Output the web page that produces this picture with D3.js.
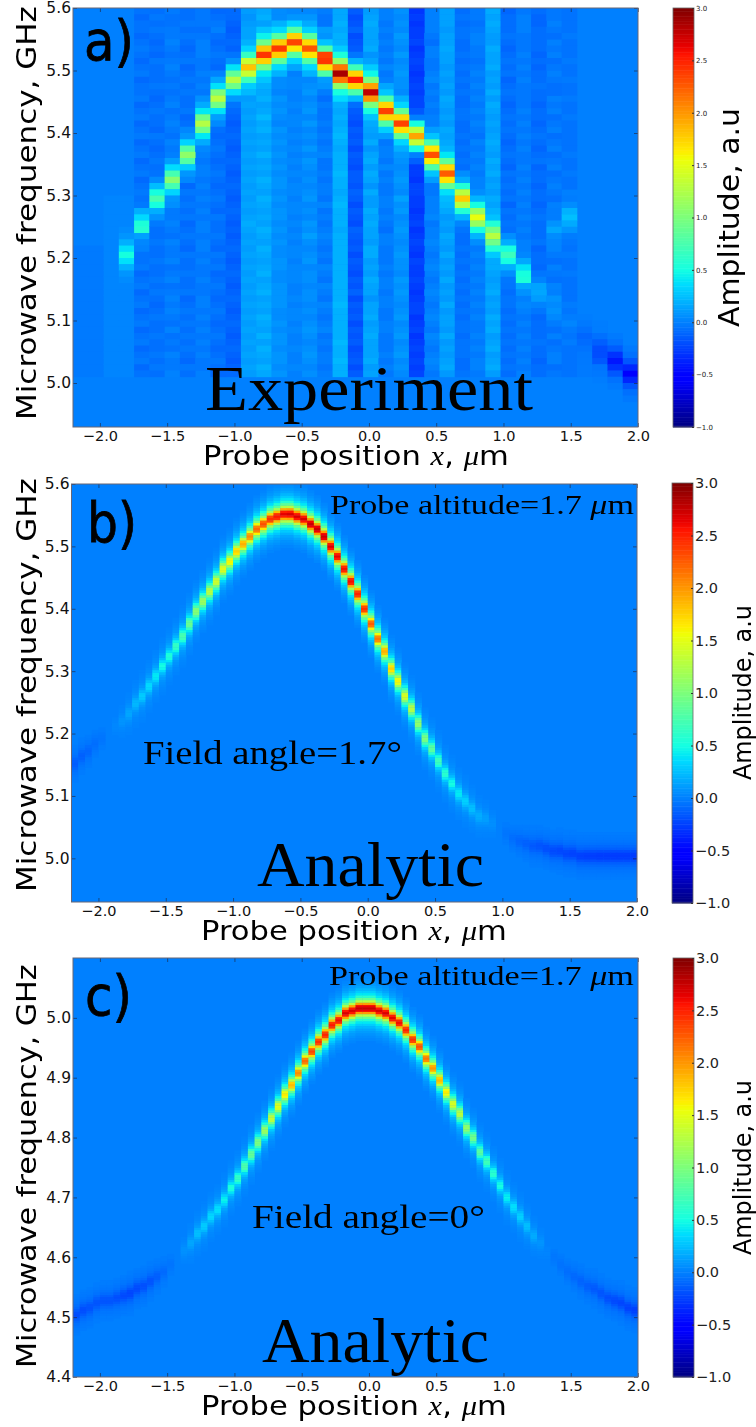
<!DOCTYPE html>
<html><head><meta charset="utf-8">
<script src="https://cdnjs.cloudflare.com/ajax/libs/d3/7.8.5/d3.min.js"></script>
<style>html,body{margin:0;padding:0;background:#fff}svg{display:block}</style>
</head><body><svg id="c" width="756" height="1427"></svg>
<script>
// ---------- values ----------
const xTicks=[-2,-1.5,-1,-0.5,0,0.5,1,1.5,2];
const yTicksAB=[5.0,5.1,5.2,5.3,5.4,5.5,5.6];
const yTicksC=[4.4,4.5,4.6,4.7,4.8,4.9,5.0];
const cbTicks=[-1,-0.5,0,0.5,1,1.5,2,2.5,3];

// panel a : 37 probe positions
const aPeakFreq=[5.2,5.2,5.2,5.2,5.25,5.291,5.325,5.368,5.413,5.45,5.48,5.504,5.522,5.533,5.541,5.53,5.52,5.498,5.482,5.461,5.435,5.413,5.392,5.362,5.33,5.298,5.266,5.235,5.202,5.17,5.144,5.12,5.1,5.074,5.05,5.032,5.016];
const aPeakAmp=[0,0,0,0.5,0.6,0.8,1.05,1.15,1.3,1.4,1.4,1.7,2.25,2.35,2.35,2.25,2.4,2.7,2.65,2.6,2.4,2.3,2.2,2.3,2.15,1.85,1.55,1.15,0.75,0.55,0.25,0.1,0.04,-0.08,-0.18,-0.42,-0.48];
const aColumnLevel=[-0.02,-0.02,0.02,0.02,-0.05,-0.06,-0.02,-0.06,-0.03,-0.06,-0.11,0.11,0.16,0.05,0,0.06,-0.04,0.16,-0.14,0.14,-0.03,0.07,-0.26,-0.03,0.13,-0.07,-0.02,0.14,-0.07,-0.03,-0.07,-0.03,-0.05,-0.02,-0.02,-0.01,-0.01];
const aColumnTop=[5.22,5.22,5.3,5.3,5.6,5.6,5.6,5.6,5.6,5.6,5.6,5.6,5.6,5.6,5.6,5.6,5.6,5.6,5.6,5.6,5.6,5.6,5.6,5.6,5.6,5.6,5.6,5.6,5.6,5.6,5.6,5.6,5.6,5.08,5.06,5.04,5.02];
const aSideSpotColumn=[31,32];
const aSideSpotFreq=[5.248,5.269];
const aSideSpotAmp=[0.15,0.3];
const aRidgeShape=[1,0.72,0.34,0.13,0.05];
// row by row shading of columns 4..32, top row 5.595 GHz, 0.01 GHz steps; digit 5 = the column level
const aRowShade=[
"55555465556465546546555645555","46455564654655356456565556455","55465655466556465546554656465","56554746555465656456465556555",
"45565556547556355655566465546","54656465565656456564556455565","65546555654465565446655645555","54456654565556436656565556465",
"46565556456476555465554565546","55645465656556367555465656455","65556546465655455646556465565","45465655556466546557465546556",
"56556464656556437565556455645","55465756545665565456465665545","64556465665447655565656455566","45656556456566346466555645455",
"56465465565655565655466556565","65546556756456456546565465546","45655645546665365566456556455","54566556665456556456655465565",
"66455465456567446655564556645","45656556565456565465656645555","54565645456665336556465556465","65456556665476556646556465546",
"46565465456656465565565655655","55646556565556347456656546465","64556645456467565555465665546","45665556665556556646556456555",
"56546465566466435565656565465","65565556456565665465465456556","45456645665656546756556665545","55665556556477346556465546465",
"64556465466556565646656565556","46565656565466456457465456645","55646547456656365565556665555","65556556665565654646465546566",
"45465645556776556556656565545","56656556465566446467555456655","65546465656456565556465665465","45565656556566365645656556556",
"56656545465656545566465465545","65455656566476456557556656465","45565465656566345456465565556","56656556456556566665656456545",
"65455645565476456556465565665","46565556665566655647556656455","55646465466556336556465465565","64556556565477556465656566546",
"45665645456566455566465456555","56556556656456565647556665465","65465465565566346456565556556","45656556456676556565465665545",
"56465645665556465647656456565","65556556465467555456465565646","45465465656556355565566656555","56656556565666456656465465565",
"65545645465567565467556556465","46565556656456346556656665545","55656465565566555465465456555"];

// panel b : 84 probe positions
const bPeakFreq=[5.153,5.163,5.172,5.182,5.191,5.201,5.211,5.22,5.231,5.246,5.262,5.276,5.292,5.31,5.324,5.339,5.358,5.377,5.395,5.411,5.429,5.445,5.462,5.477,5.493,5.505,5.517,5.526,5.534,5.542,5.547,5.55,5.55,5.549,5.544,5.536,5.526,5.515,5.501,5.483,5.464,5.443,5.422,5.398,5.374,5.352,5.331,5.305,5.284,5.26,5.239,5.214,5.193,5.174,5.154,5.135,5.119,5.102,5.09,5.078,5.068,5.062,5.054,5.047,5.041,5.033,5.028,5.023,5.02,5.018,5.015,5.012,5.01,5.009,5.007,5.005,5.005,5.004,5.004,5.004,5.002,5.002,5.002,5.002];
const bPeakAmp=[-0.14,-0.12,-0.1,-0.07,-0.04,-0.01,0.03,0.08,0.15,0.22,0.3,0.36,0.42,0.5,0.55,0.65,0.75,0.9,1.05,1.15,1.3,1.4,1.5,1.6,1.75,1.9,2.05,2.2,2.3,2.45,2.55,2.65,2.7,2.7,2.7,2.75,2.75,2.75,2.7,2.65,2.6,2.6,2.5,2.45,2.25,2.15,1.9,1.75,1.6,1.45,1.3,1.1,1,0.85,0.7,0.6,0.5,0.42,0.32,0.25,0.18,0.12,0.06,0.01,-0.04,-0.07,-0.1,-0.12,-0.15,-0.17,-0.19,-0.21,-0.22,-0.23,-0.24,-0.25,-0.26,-0.26,-0.27,-0.27,-0.27,-0.27,-0.27,-0.27];

// panel c : 84 probe positions
const cPeakFreq=[4.504,4.511,4.516,4.522,4.526,4.529,4.532,4.536,4.541,4.546,4.552,4.559,4.567,4.577,4.587,4.599,4.611,4.624,4.639,4.653,4.666,4.679,4.696,4.714,4.733,4.753,4.771,4.791,4.811,4.831,4.851,4.87,4.888,4.908,4.928,4.945,4.961,4.973,4.986,4.996,5.007,5.012,5.015,5.017,5.017,5.013,5.007,5,4.99,4.978,4.965,4.95,4.933,4.915,4.895,4.876,4.856,4.838,4.818,4.8,4.778,4.758,4.738,4.719,4.701,4.684,4.668,4.653,4.636,4.623,4.609,4.598,4.586,4.577,4.569,4.561,4.552,4.546,4.539,4.532,4.527,4.522,4.517,4.512];
const cPeakAmp=[-0.2,-0.2,-0.18,-0.17,-0.17,-0.17,-0.19,-0.21,-0.23,-0.21,-0.19,-0.17,-0.13,-0.08,-0.04,0,0.07,0.15,0.25,0.3,0.35,0.38,0.45,0.55,0.65,0.78,0.88,1,1.15,1.35,1.5,1.65,1.85,2.05,2.2,2.35,2.45,2.5,2.55,2.6,2.7,2.7,2.75,2.75,2.75,2.7,2.7,2.65,2.6,2.5,2.45,2.3,2.15,2,1.85,1.65,1.45,1.3,1.1,0.95,0.82,0.7,0.6,0.5,0.44,0.38,0.32,0.25,0.17,0.08,0.02,-0.03,-0.05,-0.07,-0.09,-0.11,-0.13,-0.15,-0.17,-0.19,-0.21,-0.23,-0.24,-0.25];
// cross-section of the analytic ridge, one entry per 0.004 GHz away from the peak
const ridgeShape=[1,0.95,0.72,0.47,0.32,0.22,0.15,0.11,0.08,0.055,0.04,0.028,0.018,0.01];

// ---------- helpers ----------
const xMin=-2.2,xMax=2;
const stops=(dom,rng)=>d3.scaleLinear().domain(dom).range(rng).clamp(true);
const rCh=stops([0,.35,.66,.89,1],[0,0,1,1,.5]);
const gCh=stops([0,.125,.375,.64,.91,1],[0,0,1,1,0,0]);
const bCh=stops([0,.11,.34,.65,1],[.5,1,1,0,0]);
const tScale=d3.scaleLinear().domain([-1,3]).range([0,1]).clamp(true);
const jet=v=>{const t=tScale(v);return d3.rgb(255*rCh(t),255*gCh(t),255*bCh(t)).formatHex();};
const svg=d3.select("#c");
const defs=svg.append("defs");
defs.append("filter").attr("id","soft").attr("x","-2%").attr("y","-2%").attr("width","104%").attr("height","104%")
  .append("feGaussianBlur").attr("stdDeviation",0.7);
defs.append("filter").attr("id","softText").attr("x","-5%").attr("y","-20%").attr("width","110%").attr("height","140%")
  .append("feGaussianBlur").attr("stdDeviation",0.35);
const SANS="'DejaVu Sans',sans-serif",SERIF="'Liberation Serif',serif";

function label(parts,o){
  const g=svg.append("text").attr("font-family",o.family||SANS).attr("font-size",o.size).attr("fill",o.fill||"#000").attr("filter","url(#softText)");
  if(o.stroke) g.attr("stroke","#000").attr("stroke-width",o.stroke);
  parts.forEach(p=>{const t=g.append("tspan").text(p.t);if(p.it){t.attr("font-family",SERIF).attr("font-style","italic");}});
  const L=g.node().getComputedTextLength();
  const s=o.len/L;
  g.attr("transform",o.rot?`translate(${o.x},${o.y}) rotate(-90) scale(${s},1)`:`translate(${o.x},${o.y}) scale(${s},1)`);
}

function panel(o){
  const x=d3.scaleLinear().domain([xMin,xMax]).range([o.l,o.r]);
  const y=d3.scaleLinear().domain(o.yDomain).range([o.b,o.t]);
  const id="clip"+o.name;
  defs.append("clipPath").attr("id",id).append("rect").attr("x",o.l).attr("y",o.t).attr("width",o.r-o.l).attr("height",o.b-o.t);
  const root=svg.append("g").attr("clip-path",`url(#${id})`);
  root.append("rect").attr("x",o.l).attr("y",o.t).attr("width",o.r-o.l).attr("height",o.b-o.t).attr("fill",jet(0));
  const dx=(xMax-xMin)/o.cols;
  root.append("g").attr("filter","url(#soft)").selectAll("rect").data(o.cells).join("rect")
    .attr("x",d=>x(xMin+d.i*dx)).attr("width",d=>x(xMin+(d.i+1)*dx)-x(xMin+d.i*dx)+0.4)
    .attr("y",d=>y(d.f+o.step/2)).attr("height",d=>y(d.f-o.step/2)-y(d.f+o.step/2)+0.4)
    .attr("fill",d=>jet(d.v));
  const frame=svg.append("g").attr("font-family",SANS);
  const style=(g,fs)=>{g.call(s=>s.selectAll(".domain").remove());
    g.selectAll("line").attr("stroke","#223").attr("stroke-opacity",.6);
    g.selectAll("text").attr("font-family",SANS).attr("font-size",fs).attr("fill","#111");};
  frame.append("g").attr("transform",`translate(0,${o.b})`)
    .call(d3.axisBottom(x).tickValues(xTicks).tickFormat(d3.format(".1f")).tickSizeInner(-4).tickSizeOuter(0).tickPadding(4)).call(style,14.5);
  frame.append("g").attr("transform",`translate(${o.l},0)`)
    .call(d3.axisLeft(y).tickValues(o.yTicks).tickFormat(d3.format(".1f")).tickSizeInner(-4).tickSizeOuter(0).tickPadding(2)).call(style,15.5);
  frame.append("g").attr("transform",`translate(0,${o.t})`)
    .call(d3.axisTop(x).tickValues(xTicks).tickFormat("").tickSizeInner(-4).tickSizeOuter(0)).call(style,10);
  frame.append("g").attr("transform",`translate(${o.r},0)`)
    .call(d3.axisRight(y).tickValues(o.yTicks).tickFormat("").tickSizeInner(-4).tickSizeOuter(0)).call(style,10);
  frame.append("rect").attr("x",o.l).attr("y",o.t).attr("width",o.r-o.l).attr("height",o.b-o.t)
    .attr("fill","none").attr("stroke","#667").attr("stroke-width",1);
}

function colorbar(o){
  const y=d3.scaleLinear().domain([-1,3]).range([o.b,o.t]);
  const levels=d3.range(-1,3,4/256);
  svg.append("g").selectAll("rect").data(levels).join("rect")
    .attr("x",o.l).attr("width",o.r-o.l).attr("y",d=>y(d+4/256)).attr("height",d=>y(d)-y(d+4/256)+0.5)
    .attr("fill",d=>jet(d+2/256));
  svg.append("rect").attr("x",o.l).attr("y",o.t).attr("width",o.r-o.l).attr("height",o.b-o.t)
    .attr("fill","none").attr("stroke","#666").attr("stroke-width",.8);
  const ax=svg.append("g").attr("transform",`translate(${o.r},0)`)
    .call(d3.axisRight(y).tickValues(cbTicks).tickFormat(d3.format(".1f")).tickSizeInner(-2).tickSizeOuter(0).tickPadding(2));
  ax.select(".domain").remove();
  ax.selectAll("line").attr("stroke","#333");
  ax.selectAll("text").attr("font-family",SANS).attr("font-size",o.fs).attr("fill","#222");
}

// ---------- cells ----------
function analyticCells(freq,amp,step){
  const cells=[];
  freq.forEach((fc,i)=>{
    const k0=Math.round(fc/step);
    ridgeShape.forEach((w,d)=>{
      (d===0?[0]:[-d,d]).forEach(s=>{
        const v=amp[i]*w;
        if(Math.abs(v)>=0.012) cells.push({i,f:(k0+s)*step,v});
      });
    });
  });
  return cells;
}
function experimentCells(step){
  const cells=[];
  const rows=d3.range(0,67);
  aPeakFreq.forEach((fc,i)=>{
    rows.forEach(r=>{
      const f=5.595-r*step;
      let v=0;
      if(r<aRowShade.length&&f<=aColumnTop[i]){
        let shade=0;
        if(i>=4&&i<=32) shade=(+aRowShade[r][i-4]-5)*0.03;
        v+=aColumnLevel[i]+shade;
      }
      const off=Math.abs(Math.round((f-fc)/step));
      if(off<aRidgeShape.length) v+=aPeakAmp[i]*aRidgeShape[off];
      const sp=aSideSpotColumn.indexOf(i);
      if(sp>=0){const o2=Math.abs(Math.round((f-aSideSpotFreq[sp])/step));if(o2<aRidgeShape.length) v+=aSideSpotAmp[sp]*aRidgeShape[o2];}
      if(Math.abs(v)>=0.008) cells.push({i,f,v});
    });
  });
  return cells;
}

// ---------- draw ----------
const xLabel=[{t:"Probe position "},{t:"x",it:1},{t:", "},{t:"μ",it:1},{t:"m"}];
const altLabel=[{t:"Probe altitude=1.7 "},{t:"μ",it:1},{t:"m"}];

panel({name:"a",l:73,r:638,t:8,b:427,yDomain:[4.9296,5.6],yTicks:yTicksAB,cols:37,step:0.01,cells:experimentCells(0.01)});
colorbar({l:673,r:694,t:8,b:427,fs:7});
panel({name:"b",l:71.5,r:637,t:484,b:902,yDomain:[4.93,5.6],yTicks:yTicksAB,cols:84,step:0.004,cells:analyticCells(bPeakFreq,bPeakAmp,0.004)});
colorbar({l:672,r:693,t:483,b:903,fs:14.5});
panel({name:"c",l:73,r:638,t:958,b:1377,yDomain:[4.4,5.1],yTicks:yTicksC,cols:84,step:0.004,cells:analyticCells(cPeakFreq,cPeakAmp,0.004)});
colorbar({l:673,r:694,t:958,b:1377,fs:14.5});

const T=(parts,o)=>label(parts,o);
T([{t:"a)"}],{x:84,y:60,size:56,len:50,stroke:0.8});
T([{t:"b)"}],{x:87,y:542,size:56,len:50,stroke:0.8});
T([{t:"c)"}],{x:85,y:1015,size:56,len:47,stroke:0.8});
T([{t:"Experiment"}],{x:205,y:410,size:63,family:SERIF,len:328});
T([{t:"Analytic"}],{x:257,y:886,size:63,family:SERIF,len:227});
T([{t:"Analytic"}],{x:262,y:1362,size:63,family:SERIF,len:227});
T(altLabel,{x:330,y:514,size:27,family:SERIF,len:304});
T(altLabel,{x:329,y:985,size:27,family:SERIF,len:305});
T([{t:"Field angle=1.7°"}],{x:143,y:764,size:33,family:SERIF,len:259});
T([{t:"Field angle=0°"}],{x:252,y:1228,size:33,family:SERIF,len:233});
T(xLabel,{x:203,y:465,size:27,len:306});
T(xLabel,{x:201,y:940,size:27,len:306});
T(xLabel,{x:201,y:1415,size:27,len:306});
const yLabel=[{t:"Microwave frequency, GHz"}];
T(yLabel,{x:36,y:420,size:27,len:414,rot:1});
T(yLabel,{x:36,y:892,size:27,len:414,rot:1});
T(yLabel,{x:36,y:1368,size:27,len:404,rot:1});
const cLabel=[{t:"Amplitude, a.u"}];
T(cLabel,{x:739,y:327,size:29,len:219,rot:1});
T(cLabel,{x:751,y:780,size:24,len:175,rot:1});
T(cLabel,{x:751,y:1255,size:24,len:175,rot:1});
</script></body></html>
